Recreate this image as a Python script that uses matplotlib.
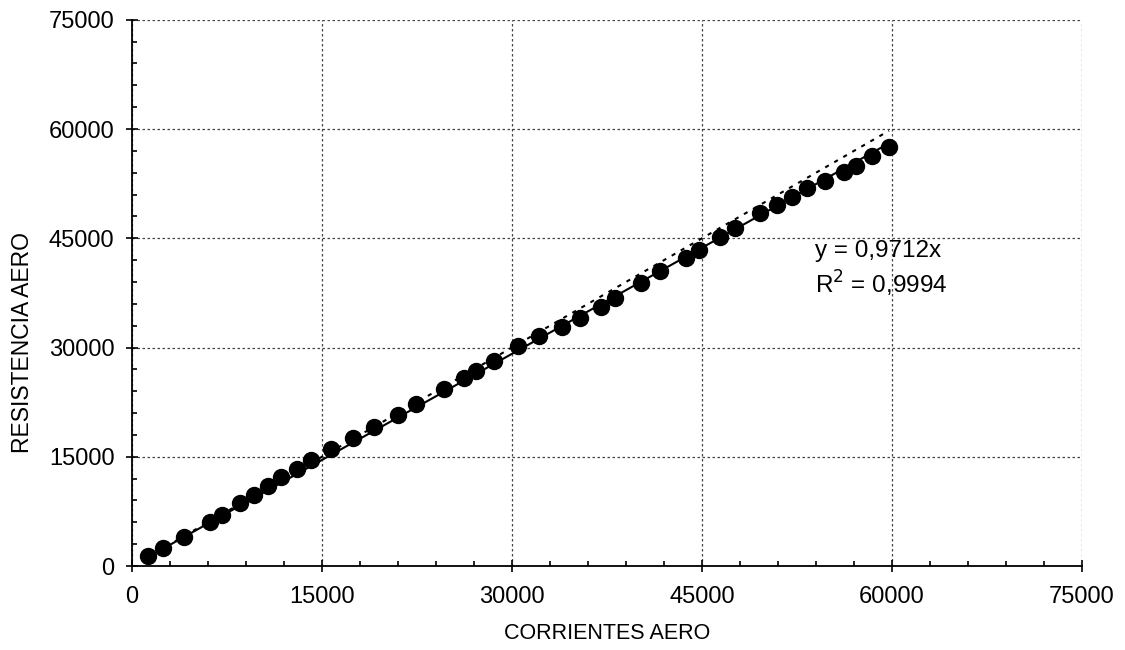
import numpy as np
import matplotlib
matplotlib.use("Agg")
import matplotlib.pyplot as plt
from matplotlib.ticker import MultipleLocator

# =========================
# DATA
# =========================

corrientes = [
    1260, 2450, 4080, 6130, 7100, 8560, 9610, 10740, 11740, 13030,
    14110, 15690, 17450, 19100, 21000, 22400, 24610, 26210, 27130, 28580,
    30450, 32110, 33950, 35340, 37060, 38160, 40220, 41720, 43710, 44760,
    46450, 47630, 49610, 50920, 52140, 53290, 54690, 56210, 57190, 58450,
    59760
]

resistencia = [
    1370, 2430, 3940, 6000, 7040, 8650, 9750, 11030, 12260, 13360,
    14550, 16000, 17620, 19130, 20690, 22240, 24260, 25770, 26820, 28190,
    30210, 31580, 32860, 34010, 35600, 36840, 38900, 40550, 42290, 43390,
    45130, 46450, 48430, 49570, 50630, 51860, 52900, 54140, 54920, 56300,
    57490
]

slope = 0.9712
r2 = 0.9994

x_label = "CORRIENTES AERO"
y_label = "RESISTENCIA AERO"

# =========================
# FIGURE
# =========================

plt.rcParams["font.family"] = ["Liberation Sans", "DejaVu Sans"]

fig = plt.figure(figsize=(11.25, 6.5), dpi=100)
ax = fig.add_axes([0.1173, 0.1292, 0.8445, 0.8404])

x = np.array(corrientes, dtype=float)
y = np.array(resistencia, dtype=float)
x_range = np.array([x.min(), x.max()])

# reference line y = x
ax.plot(x_range, x_range, color="black", lw=1.5,
        linestyle=(0, (2, 3)), zorder=2)

# trend line through origin
ax.plot(x_range, slope * x_range, color="black", lw=1.5, zorder=3)

ax.plot(x, y, "o", color="black", markersize=11.5, zorder=4)

ax.text(53900, 43250,
        "y = " + f"{slope:.4f}".replace(".", ",") + "x",
        fontsize=17.5, va="center", ha="left")
ax.text(53900, 38700,
        "R$^{2}$ = " + f"{r2:.4f}".replace(".", ","),
        fontsize=17.5, va="center", ha="left")

ax.set_xlim(0, 75000)
ax.set_ylim(0, 75000)

ax.xaxis.set_major_locator(MultipleLocator(15000))
ax.yaxis.set_major_locator(MultipleLocator(15000))
ax.xaxis.set_minor_locator(MultipleLocator(3000))
ax.yaxis.set_minor_locator(MultipleLocator(3000))

ax.tick_params(which="major", direction="inout", length=9,
               width=1.2, labelsize=17)
ax.tick_params(axis="x", which="major", pad=10)
ax.tick_params(axis="y", which="major", pad=8)
ax.tick_params(which="minor", direction="in", length=3.6, width=1.2)

ax.grid(which="major", color="#444444", lw=0.9, linestyle=(0, (2, 2)))
ax.set_axisbelow(True)

for side in ["top", "right"]:
    ax.spines[side].set_visible(False)
for side in ["left", "bottom"]:
    ax.spines[side].set_linewidth(1.3)

ax.set_xlabel(x_label, fontsize=15.5, labelpad=11)
ax.set_ylabel(y_label, fontsize=16.5)
ax.yaxis.set_label_coords(-0.103, 0.41)

fig.savefig("out.png", dpi=100)
